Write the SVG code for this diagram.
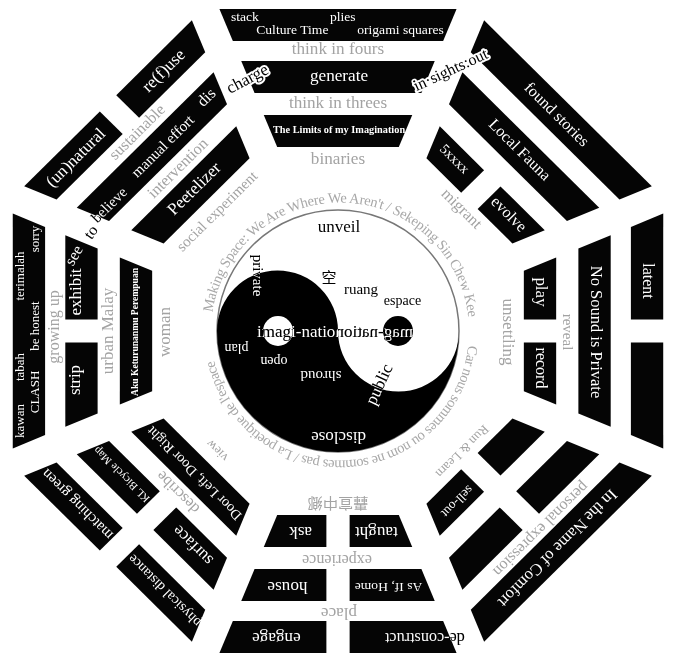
<svg xmlns="http://www.w3.org/2000/svg" width="674" height="662" viewBox="0 0 674 662">
<defs>
<style>
text{font-family:"Liberation Serif","DejaVu Serif",serif;text-anchor:middle;dominant-baseline:middle}
.st{text-anchor:start}
.w{fill:#fff}
.g{fill:#a3a3a3}
.k{fill:#000}
.x{fill:#fff;mix-blend-mode:difference}
.ok{fill:#000;paint-order:stroke;stroke:#fff;stroke-width:4;stroke-linejoin:round}
.bar{fill:#050505}
.ring{dominant-baseline:auto;text-anchor:start;fill:#a8a8a8;font-size:14.5px}
.cjk{font-family:"Noto Sans CJK SC","Noto Sans CJK JP",sans-serif}
.b{font-weight:bold}
</style>
<polygon id="OS" class="bar" points="-117.4,-322 117.4,-322 104.1,-290 -104.1,-290"/>
<polygon id="OL" class="bar" points="-117.4,-322 -11.5,-322 -11.5,-290 -104.1,-290"/>
<polygon id="OR" class="bar" points="11.5,-322 117.4,-322 104.1,-290 11.5,-290"/>
<polygon id="MS" class="bar" points="-95.8,-270 95.8,-270 82.6,-238 -82.6,-238"/>
<polygon id="ML" class="bar" points="-95.8,-270 -11.5,-270 -11.5,-238 -82.6,-238"/>
<polygon id="MR" class="bar" points="11.5,-270 95.8,-270 82.6,-238 11.5,-238"/>
<polygon id="IS" class="bar" points="-73.5,-216 73.5,-216 60.2,-184 -60.2,-184"/>
<polygon id="IL" class="bar" points="-73.5,-216 -11.5,-216 -11.5,-184 -60.2,-184"/>
<polygon id="IR" class="bar" points="11.5,-216 73.5,-216 60.2,-184 11.5,-184"/>
<path id="ringpath" d="M211 331.5 A129 129 0 1 1 469 331.5 A129 129 0 1 1 211 331.5"/>
</defs>
<rect width="674" height="662" fill="#fff"/>

<g transform="translate(338 331) scale(1.01 1)">
<g id="tri-top">
<use href="#OS"/><use href="#MS"/><use href="#IS"/>
<text class="w st" x="-106" y="-313" font-size="13.5">stack</text>
<text class="w st" x="-8" y="-313" font-size="13.5">plies</text>
<text class="w st" x="-81" y="-300" font-size="13.5">Culture Time</text>
<text class="w st" x="19" y="-300" font-size="13.5">origami squares</text>
<text class="g" x="0" y="-281" font-size="17">think in fours</text>
<text class="w" x="1" y="-254" font-size="17">generate</text>
<text class="g" x="0" y="-227" font-size="17">think in threes</text>
<text class="w b" x="1" y="-200" font-size="10.2">The Limits of my Imagination</text>
<text class="g" x="0" y="-171" font-size="17">binaries</text>
</g>
<g id="tri-topright" transform="rotate(45)">
<use href="#OS"/><use href="#MS"/><use href="#IL"/><use href="#IR"/>
<text class="w" x="0" y="-305" font-size="16">found stories</text>
<text class="w" x="-1" y="-254" font-size="16">Local Fauna</text>
<text class="w" x="-40" y="-202" font-size="14">5xxxx</text>
<text class="w" x="37" y="-201" font-size="16">evolve</text>
<text class="g" x="0" y="-172" font-size="16">migrant</text>
</g>
<g id="tri-right" transform="rotate(90)">
<use href="#OL"/><use href="#OR"/><use href="#MS"/><use href="#IL"/><use href="#IR"/>
<text class="w" x="-50" y="-306" font-size="16">latent</text>
<text class="w" x="1" y="-254" font-size="16.5">No Sound is Private</text>
<text class="g" x="1" y="-226" font-size="15">reveal</text>
<text class="w" x="-39" y="-200" font-size="17">play</text>
<text class="w" x="37" y="-200" font-size="16">record</text>
<text class="g" x="1" y="-167" font-size="17">unsettling</text>
</g>
<g id="tri-bottomright" transform="rotate(135)">
<use href="#OS"/><use href="#ML"/><use href="#MR"/><use href="#IL"/><use href="#IR"/>
<text class="w" x="0" y="-306" font-size="16.5">In the Name of Comfort</text>
<text class="g" x="-2" y="-281" font-size="16">personal expression</text>
<text class="w" x="37" y="-203" font-size="13">sell-out</text>
<text class="g" x="-2" y="-171" font-size="13">Run &amp; Learn</text>
</g>
<g id="tri-bottom" transform="rotate(180)">
<use href="#OL"/><use href="#OR"/><use href="#ML"/><use href="#MR"/><use href="#IL"/><use href="#IR"/>
<text class="w" x="61" y="-306" font-size="17">engage</text>
<text class="x" x="-86" y="-306" font-size="16">de-construct</text>
<text class="g" x="-1" y="-281" font-size="17">place</text>
<text class="w" x="50" y="-255" font-size="17">house</text>
<text class="w" x="-50" y="-255" font-size="13.5">As If, Home</text>
<text class="g" x="1" y="-228" font-size="16">experience</text>
<text class="w" x="37" y="-200" font-size="17">ask</text>
<text class="w" x="-38" y="-200" font-size="17">taught</text>
<text class="g cjk" x="0" y="-171" font-size="15">轟宣中鄉</text>
</g>
<g id="tri-bottomleft" transform="rotate(225)">
<use href="#OL"/><use href="#OR"/><use href="#ML"/><use href="#MR"/><use href="#IS"/>
<text class="w" x="60" y="-304" font-size="15">matching green</text>
<text class="w" x="-62" y="-304" font-size="14">physical distance</text>
<text class="w" x="50" y="-252" font-size="11">KL Bicycle Map</text>
<text class="w" x="-50" y="-252" font-size="17">surface</text>
<text class="g" x="-2" y="-225" font-size="16">describe</text>
<text class="w" x="0" y="-200" font-size="14">Door Left, Door Right</text>
<text class="g" x="0" y="-168" font-size="13">view</text>
</g>
<g id="tri-left" transform="rotate(270)">
<use href="#OS"/><use href="#ML"/><use href="#MR"/><use href="#IS"/>
<text class="w" x="-90" y="-314" font-size="13">kawan</text>
<text class="w" x="-36" y="-314" font-size="13">tabah</text>
<text class="w" x="55" y="-314" font-size="13">terimalah</text>
<text class="w" x="-61" y="-299" font-size="13">CLASH</text>
<text class="w" x="5" y="-299" font-size="13">be honest</text>
<text class="w" x="92" y="-299" font-size="13">sorry</text>
<text class="g" x="4" y="-280" font-size="16">growing up</text>
<text class="w" x="39" y="-258" font-size="17">exhibit</text>
<text class="w" x="-49" y="-259" font-size="17">strip</text>
<text class="g" x="0" y="-227" font-size="17">urban Malay</text>
<text class="w b" x="-1" y="-200" font-size="9.6">Aku Keturunanmu Perempuan</text>
<text class="g" x="-1" y="-170" font-size="17">woman</text>
</g>
<g id="tri-topleft" transform="rotate(315)">
<use href="#OL"/><use href="#OR"/><use href="#MS"/><use href="#IS"/>
<text class="w" x="62" y="-305" font-size="17">re(f)use</text>
<text class="w" x="-61" y="-305" font-size="17">(un)natural</text>
<text class="g" x="0" y="-280" font-size="16">sustainable</text>
<text class="x" x="-71" y="-248" font-size="15">believe</text>
<text class="w" x="8" y="-252" font-size="15">manual effort</text>
<text class="w" x="73" y="-256" font-size="16">dis</text>
<text class="g" x="3" y="-226" font-size="16">intervention</text>
<text class="w" x="0" y="-200" font-size="17">Peetelizer</text>
<text class="g" x="0" y="-168" font-size="15">social experiment</text>
</g>
</g>

<g id="free-words">
<text class="ok" transform="translate(248 80) rotate(-28)" font-size="17">charge</text>
<text class="ok st" transform="translate(415 88) rotate(-25)" font-size="16">in·sights:out</text>
<text class="x" transform="translate(75 256) rotate(-60)" font-size="16">see</text>
<text class="k" transform="translate(92 233) rotate(-55)" font-size="16">to</text>
</g>

<g id="ring-text">
<text class="ring"><textPath href="#ringpath" startOffset="19" textLength="372" lengthAdjust="spacing">Making Space: We Are Where We Aren't / Sekeping Sin Chew Kee</textPath></text>
<text class="ring"><textPath href="#ringpath" startOffset="419" textLength="362" lengthAdjust="spacing">Car nous sommes ou nom ne sommes pas / La poetique de l'espace</textPath></text>
</g>

<g id="yinyang">
<circle cx="338" cy="331" r="121" fill="#fff" stroke="#777" stroke-width="1.5"/>
<path d="M217 331 A121 121 0 0 0 459 331 A60.5 60.5 0 0 1 338 331 A60.5 60.5 0 0 0 217 331 Z" fill="#000"/>
<circle cx="278" cy="331" r="15" fill="#fff"/>
<circle cx="398" cy="331" r="15" fill="#000"/>
<text class="k" x="339" y="228" font-size="17">unveil</text>
<text class="k cjk" x="329" y="279" font-size="15">空</text>
<text class="k" x="361" y="291" font-size="15">ruang</text>
<text class="k" x="402.5" y="302" font-size="14">espace</text>
<text class="x" transform="translate(256 275.5) rotate(90)" font-size="15">private</text>
<text class="x st" x="257" y="333" font-size="17">imagi-natio</text>
<text class="x st" transform="translate(413 333) scale(-1 1)" font-size="17">mag-nation</text>
<text class="w" transform="translate(236.5 347) rotate(180)" font-size="14">plan</text>
<text class="w" transform="translate(274 360) rotate(180)" font-size="14">open</text>
<text class="w" transform="translate(321 374) rotate(180)" font-size="15">shroud</text>
<text class="x" transform="translate(380.5 385) rotate(-65)" font-size="17">public</text>
<text class="w" transform="translate(338.5 436) rotate(180)" font-size="17">disclose</text>
</g>

<g id="connectors"/>
</svg>
